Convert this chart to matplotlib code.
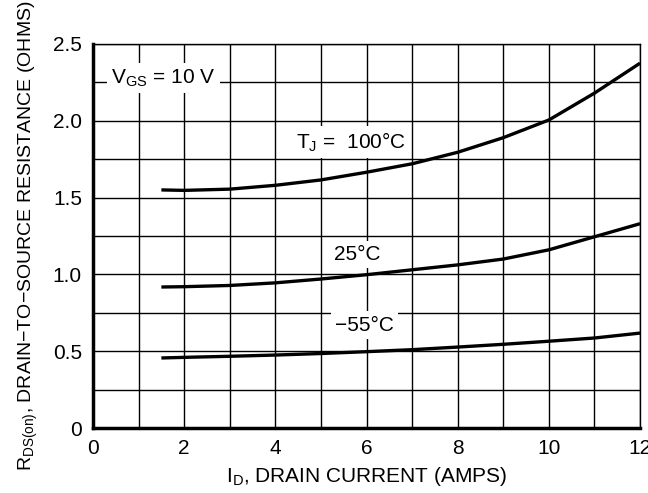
import matplotlib
matplotlib.use("Agg")
import matplotlib.pyplot as plt

plt.rcParams['font.family'] = ['Liberation Sans Narrow', 'Liberation Sans', 'DejaVu Sans']

# Drain current (A)
current = [1.5, 2, 3, 4, 5, 6, 7, 8, 9, 10, 11, 12]
# R_DS(on) (ohms) for each junction temperature
r_100 = [1.55, 1.547, 1.555, 1.58, 1.615, 1.665, 1.72, 1.795, 1.89, 2.005, 2.18, 2.375]
r_25 = [0.918, 0.92, 0.928, 0.945, 0.97, 0.998, 1.03, 1.062, 1.1, 1.16, 1.245, 1.33]
r_m55 = [0.456, 0.46, 0.467, 0.475, 0.485, 0.497, 0.51, 0.527, 0.545, 0.565, 0.586, 0.618]

x_ticks = [0, 2, 4, 6, 8, 10, 12]
y_ticks = [0, 0.5, 1.0, 1.5, 2.0, 2.5]
y_ticklabels = ["0", "0.5", "1.0", "1.5", "2.0", "2.5"]

fig = plt.figure(figsize=(6.48, 4.93), dpi=100)
ax = fig.add_axes([0.1435, 0.1318, 0.9877 - 0.1435, 0.9108 - 0.1318])

ax.set_xlim(0, 12)
ax.set_ylim(0, 2.5)

# grid
for xv in range(0, 13):
    ax.axvline(xv, color='black', lw=1.0, zorder=1)
for i in range(0, 11):
    ax.axhline(i * 0.25, color='black', lw=1.0, zorder=1)

for ys in (r_100, r_25, r_m55):
    ax.plot(current, ys, color='black', lw=2.4, solid_capstyle='butt', zorder=3)

bbox = dict(facecolor='white', edgecolor='none', pad=3)
fs = 15
ax.text(0.4, 2.28, r"V$_{\mathregular{GS}}$ = 10 V", fontsize=fs, ha='left', va='center', bbox=bbox, zorder=4)
ax.text(5.65, 1.86, r"T$_{\mathregular{J}}$ =  100°C", fontsize=fs, ha='center', va='center', bbox=bbox, zorder=4)
ax.text(5.8, 1.13, "25°C", fontsize=fs, ha='center', va='center', bbox=bbox, zorder=4)
ax.text(5.95, 0.67, "−55°C", fontsize=fs, ha='center', va='center', bbox=bbox, zorder=4)

ax.set_xticks(x_ticks)
ax.set_xticklabels([str(v) for v in x_ticks], fontsize=fs)
ax.set_yticks(y_ticks)
ax.set_yticklabels(y_ticklabels, fontsize=fs)
ax.tick_params(length=0, pad=8)

for s in ('top', 'right'):
    ax.spines[s].set_linewidth(1.0)
for s in ('left', 'bottom'):
    ax.spines[s].set_linewidth(2.5)

ax.set_xlabel(r"I$_{\mathregular{D}}$, DRAIN CURRENT (AMPS)", fontsize=fs, labelpad=5)
ax.set_ylabel(r"R$_{\mathregular{DS(on)}}$, DRAIN−TO−SOURCE RESISTANCE (OHMS)", fontsize=14, labelpad=9)

fig.savefig("out.png", dpi=100)
